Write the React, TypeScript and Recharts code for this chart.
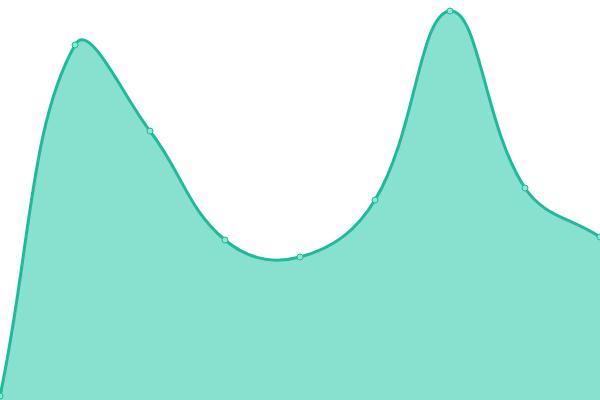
import { AreaChart, Area, XAxis, YAxis } from "recharts";

const labels = ["1", "2", "3", "4", "5", "6", "7", "8", "9"];
const values = [4, 355, 269, 160, 143, 200, 389, 212, 163];

const data = labels.map((label, i) => ({ label, value: values[i] }));

const W = 600;
const H = 400;

// tension spline (control points scaled by neighbour distances, capped to the plot)
const tensionSpline = (context: any) => {
  let pts: number[][] = [];
  let line = NaN;
  const t = 0.4;
  const cap = (p: number[]) => [Math.max(0, Math.min(W, p[0])), Math.max(0, Math.min(H, p[1]))];
  const draw = () => {
    const n = pts.length;
    if (!n) return;
    if (line) context.lineTo(pts[0][0], pts[0][1]);
    else context.moveTo(pts[0][0], pts[0][1]);
    if (n === 2) {
      context.lineTo(pts[1][0], pts[1][1]);
      return;
    }
    const prev: number[][] = [];
    const next: number[][] = [];
    for (let i = 0; i < n; i++) {
      const p0 = pts[Math.max(0, i - 1)];
      const p1 = pts[i];
      const p2 = pts[Math.min(n - 1, i + 1)];
      const d01 = Math.hypot(p1[0] - p0[0], p1[1] - p0[1]);
      const d12 = Math.hypot(p2[0] - p1[0], p2[1] - p1[1]);
      let s01 = d01 / (d01 + d12);
      let s12 = d12 / (d01 + d12);
      if (isNaN(s01)) s01 = 0;
      if (isNaN(s12)) s12 = 0;
      const fa = t * s01;
      const fb = t * s12;
      prev.push(cap([p1[0] - fa * (p2[0] - p0[0]), p1[1] - fa * (p2[1] - p0[1])]));
      next.push(cap([p1[0] + fb * (p2[0] - p0[0]), p1[1] + fb * (p2[1] - p0[1])]));
    }
    for (let i = 0; i < n - 1; i++) {
      context.bezierCurveTo(next[i][0], next[i][1], prev[i + 1][0], prev[i + 1][1], pts[i + 1][0], pts[i + 1][1]);
    }
  };
  return {
    areaStart() {
      line = 0;
    },
    areaEnd() {
      line = NaN;
    },
    lineStart() {
      pts = [];
    },
    lineEnd() {
      draw();
      if (line || (line !== 0 && pts.length === 1)) context.closePath();
      line = 1 - line;
    },
    point(x: number, y: number) {
      pts.push([+x, +y]);
    },
  };
};

export default function App() {
  return (
    <div style={{ position: "absolute", left: 0, top: 0, width: W, height: H, background: "#fff" }}>
      <AreaChart width={W} height={H} data={data} margin={{ top: 0, right: 0, bottom: 0, left: 0 }}>
        <XAxis dataKey="label" hide padding={{ left: 0, right: 0 }} />
        <YAxis hide domain={[0, 400]} />
        <Area
          type={tensionSpline as any}
          dataKey="value"
          stroke="#1dbb99"
          strokeWidth={3}
          fill="#88e0cf"
          fillOpacity={1}
          dot={{ r: 3, fill: "#8fe6d2", stroke: "#1dbb99", strokeWidth: 1 }}
          activeDot={false}
          isAnimationActive={false}
        />
      </AreaChart>
    </div>
  );
}
